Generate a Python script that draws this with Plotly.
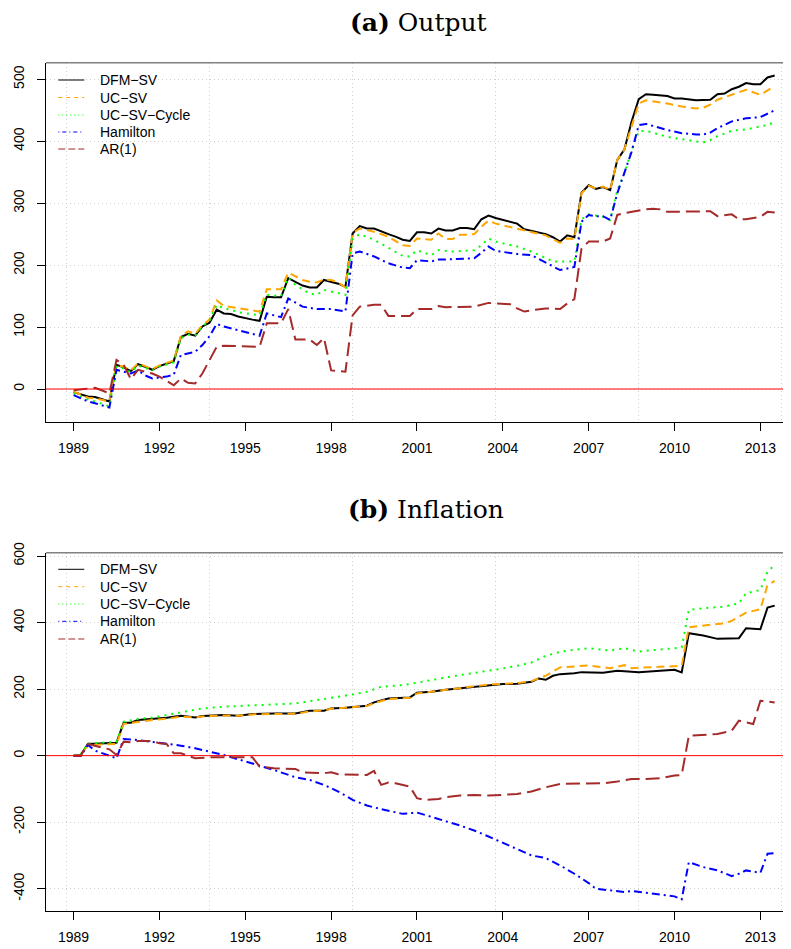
import plotly.graph_objects as go

# ---------------- Panel (a) Output ----------------
dfm_out_t = [1989.0,1989.5,1989.75,1990.25,1990.5,1990.75,1991.0,1991.25,1991.5,1991.75,1992.0,1992.25,1992.5,1992.75,1993.0,1993.25,1993.5,1993.75,1994.0,1994.25,1994.5,1994.75,1995.0,1995.25,1995.5,1995.75,1996.0,1996.25,1996.5,1996.75,1997.0,1997.25,1997.5,1997.75,1998.0,1998.25,1998.5,1998.75,1999.0,1999.25,1999.5,1999.75,2000.0,2000.25,2000.5,2000.75,2001.0,2001.25,2001.5,2001.75,2002.0,2002.25,2002.5,2002.75,2003.0,2003.25,2003.5,2003.75,2004.0,2004.5,2004.75,2005.0,2005.5,2005.75,2006.0,2006.25,2006.5,2006.75,2007.0,2007.25,2007.5,2007.75,2008.0,2008.25,2008.5,2008.75,2009.0,2009.25,2009.75,2010.0,2010.25,2010.75,2011.0,2011.25,2011.5,2011.75,2012.0,2012.25,2012.5,2012.75,2013.0,2013.25,2013.5]
dfm_out_v = [-5,-12,-13,-20,39,35,29,40,36,31,37,41,45,84,89,86,101,107,128,122,121,117,114,112,110,149,148,148,179,173,167,164,164,176,173,170,165,251,263,259,259,254,250,246,241,239,253,253,251,259,256,256,260,260,258,274,280,276,273,267,258,255,250,245,238,248,245,317,329,323,326,321,370,387,432,468,476,475,473,469,469,466,466,467,476,477,484,488,494,492,492,503,506]

uc_out_t = [1989.0,1989.5,1989.75,1990.25,1990.5,1990.75,1991.0,1991.25,1991.5,1991.75,1992.0,1992.25,1992.5,1992.75,1993.0,1993.25,1993.5,1993.75,1994.0,1994.25,1994.5,1994.75,1995.0,1995.25,1995.5,1995.75,1996.0,1996.25,1996.5,1996.75,1997.0,1997.25,1997.5,1997.75,1998.0,1998.25,1998.5,1998.75,1999.0,1999.5,2000.0,2000.5,2000.75,2001.0,2001.25,2001.5,2001.75,2002.0,2002.25,2002.5,2002.75,2003.0,2003.25,2003.5,2003.75,2004.5,2005.0,2005.5,2006.0,2006.25,2006.5,2006.75,2007.0,2007.25,2007.5,2007.75,2008.0,2008.25,2008.5,2008.75,2009.0,2009.75,2010.25,2010.75,2011.0,2011.25,2011.5,2012.0,2012.5,2013.0,2013.25,2013.5]
uc_out_v = [-4,-14,-15,-20,39,36,30,41,37,32,38,42,46,86,93,89,103,112,143,134,132,130,128,126,125,161,161,161,188,182,176,173,172,177,176,172,164,252,259,254,246,232,231,243,242,241,251,242,242,249,249,250,262,272,267,259,254,248,236,243,242,316,328,324,327,321,370,387,424,461,466,461,456,453,454,459,467,475,483,475,482,489]

cyc_out_t = [1989.0,1989.5,1989.75,1990.25,1990.5,1990.75,1991.0,1991.25,1991.5,1991.75,1992.0,1992.25,1992.5,1992.75,1993.0,1993.25,1993.5,1993.75,1994.0,1994.25,1994.5,1994.75,1995.0,1995.5,1995.75,1996.25,1996.5,1996.75,1997.25,1997.5,1997.75,1998.0,1998.5,1998.75,1999.0,1999.5,2000.0,2000.5,2000.75,2001.0,2001.5,2001.75,2002.25,2003.0,2003.25,2003.5,2003.75,2004.5,2005.0,2005.75,2006.5,2006.75,2007.0,2007.25,2007.5,2007.75,2008.0,2008.25,2008.5,2008.75,2009.0,2009.75,2010.25,2010.75,2011.0,2011.25,2011.5,2012.0,2012.5,2013.0,2013.25,2013.5]
cyc_out_v = [-7,-17,-20,-28,36,33,27,38,34,30,36,40,43,82,88,87,101,110,136,130,128,124,122,119,152,150,180,168,154,152,160,157,152,243,250,241,228,215,214,224,216,224,222,224,232,243,238,230,222,206,206,274,282,280,278,273,321,348,386,416,417,407,403,399,398,402,408,417,419,424,426,431]

ham_out_t = [1989.0,1989.5,1989.75,1990.25,1990.5,1990.75,1991.0,1991.25,1991.5,1991.75,1992.25,1992.5,1992.75,1993.25,1993.5,1993.75,1994.0,1994.25,1994.75,1995.5,1995.75,1996.25,1996.5,1997.0,1997.5,1998.0,1998.5,1998.75,1999.0,1999.5,2000.0,2000.5,2000.75,2001.0,2001.5,2001.75,2002.0,2003.0,2003.25,2003.5,2003.75,2004.5,2005.0,2006.0,2006.5,2006.75,2007.0,2007.25,2007.5,2007.75,2008.0,2008.25,2008.5,2008.75,2009.0,2009.75,2010.25,2010.75,2011.0,2011.25,2011.5,2012.0,2012.5,2013.0,2013.25,2013.5]
ham_out_v = [-10,-20,-23,-30,31,28,25,30,22,17,20,23,55,60,71,85,105,101,95,86,122,116,146,133,129,129,125,219,222,214,203,196,195,208,206,209,209,211,220,230,223,218,216,192,197,270,281,279,279,273,316,349,383,426,428,418,413,411,411,414,421,432,437,439,445,450]

ar_out_t = [1989.0,1989.5,1989.75,1990.25,1990.5,1990.75,1991.0,1991.25,1991.75,1992.0,1992.5,1992.75,1993.0,1993.25,1993.5,1994.0,1994.25,1995.5,1995.75,1996.25,1996.5,1996.75,1997.25,1997.5,1997.75,1998.0,1998.5,1998.75,1999.0,1999.5,1999.75,2000.0,2000.75,2001.0,2001.5,2001.75,2002.0,2003.0,2003.5,2003.75,2004.25,2004.5,2004.75,2005.0,2005.5,2006.0,2006.25,2006.5,2006.75,2007.0,2007.5,2007.75,2008.0,2008.25,2008.5,2008.75,2009.0,2009.25,2009.5,2009.75,2010.75,2011.25,2011.5,2012.0,2012.25,2012.5,2013.0,2013.25,2013.5]
ar_out_v = [-2,1,2,-7,47,39,16,31,25,20,6,17,10,9,25,68,70,68,106,106,129,80,80,71,82,30,28,119,133,136,136,118,118,129,129,134,132,133,139,138,137,130,125,127,130,129,138,145,227,238,238,243,281,284,286,289,290,291,290,286,286,287,279,282,274,274,278,286,285]

# ---------------- Panel (b) Inflation ----------------
dfm_inf_t = [1989.0,1989.25,1989.5,1990.5,1990.75,1991.0,1991.25,1991.75,1992.25,1992.75,1993.25,1993.5,1994.25,1994.75,1995.25,1996.0,1996.75,1997.25,1997.75,1998.0,1998.5,1999.25,1999.5,2000.0,2000.75,2001.0,2001.5,2002.0,2002.5,2003.0,2003.5,2004.0,2004.5,2005.0,2005.25,2005.5,2005.75,2006.0,2006.5,2006.75,2007.5,2008.0,2008.75,2009.5,2010.0,2010.25,2010.5,2011.0,2011.5,2012.25,2012.5,2013.0,2013.25,2013.5]
dfm_inf_v = [0,2,35,39,99,99,107,110,114,120,115,119,122,120,125,127,127,135,135,142,144,150,160,172,175,189,192,198,202,207,212,215,216,222,232,228,240,245,248,251,249,255,251,256,258,250,368,361,351,353,383,380,445,451]

uc_inf_t = [1989.0,1989.25,1989.5,1990.5,1990.75,1991.25,1991.75,1992.25,1992.75,1993.25,1993.5,1994.25,1994.75,1995.25,1996.0,1996.75,1997.25,1997.75,1998.0,1998.5,1999.25,1999.5,2000.0,2000.75,2001.0,2001.5,2002.0,2002.5,2003.0,2003.5,2004.0,2004.5,2005.0,2005.5,2006.0,2006.5,2007.0,2007.75,2008.25,2008.5,2009.5,2010.25,2010.5,2011.0,2011.75,2012.0,2012.5,2013.0,2013.25,2013.5]
uc_inf_v = [0,1,32,35,95,102,107,111,117,115,118,121,120,124,126,126,133,136,141,144,149,158,170,174,187,192,197,203,208,214,216,218,224,240,265,269,271,263,272,263,268,270,386,390,398,405,430,440,513,525]

cyc_inf_t = [1989.0,1989.25,1989.5,1990.5,1990.75,1991.25,1991.75,1992.25,1992.75,1993.5,1994.25,1995.25,1996.0,1996.75,1997.25,1997.75,1998.25,1998.75,1999.25,1999.75,2000.5,2001.0,2001.5,2002.0,2002.5,2003.0,2003.5,2004.0,2004.5,2005.0,2005.5,2006.0,2006.5,2007.0,2007.75,2008.25,2008.75,2009.5,2010.0,2010.25,2010.5,2011.0,2011.75,2012.25,2012.5,2013.0,2013.25,2013.5]
cyc_inf_v = [0,3,37,41,102,110,114,122,129,142,147,152,154,157,163,169,177,184,192,207,212,219,228,235,242,248,255,262,270,280,300,312,318,323,316,323,313,318,323,325,438,443,448,458,488,498,553,573]

ham_inf_t = [1989.0,1989.25,1989.5,1989.75,1990.5,1990.75,1991.25,1991.75,1992.25,1992.75,1993.25,1993.75,1994.25,1994.75,1995.25,1996.0,1996.75,1997.25,1997.75,1998.25,1998.75,1999.25,1999.75,2000.5,2001.0,2001.25,2001.75,2002.0,2002.5,2003.0,2003.5,2004.0,2004.5,2005.0,2005.5,2006.0,2006.5,2007.0,2007.25,2007.75,2008.25,2008.5,2009.0,2009.5,2010.0,2010.25,2010.5,2011.0,2011.5,2012.0,2012.25,2012.5,2013.0,2013.25,2013.5]
ham_inf_v = [0,-1,32,15,-8,50,47,42,37,30,22,12,2,-11,-23,-43,-65,-73,-88,-108,-133,-150,-161,-175,-171,-178,-190,-197,-210,-225,-243,-262,-280,-300,-308,-330,-355,-383,-400,-405,-410,-407,-413,-418,-423,-432,-320,-335,-345,-362,-355,-345,-352,-295,-293]

ar_inf_t = [1989.0,1989.25,1989.5,1990.0,1990.25,1990.5,1990.75,1991.0,1991.25,1991.75,1992.0,1992.25,1992.5,1992.75,1993.25,1993.75,1994.25,1994.75,1995.25,1995.5,1996.0,1996.75,1997.0,1997.75,1998.0,1998.25,1998.75,1999.25,1999.5,1999.75,2000.0,2000.25,2000.75,2001.0,2001.25,2001.75,2002.0,2002.5,2003.0,2003.5,2004.0,2004.5,2005.0,2005.5,2006.0,2007.0,2007.5,2008.0,2008.5,2009.0,2009.5,2010.0,2010.25,2010.5,2011.0,2011.5,2012.0,2012.25,2012.5,2012.75,2013.0,2013.5]
ar_inf_v = [0,0,35,25,19,2,42,40,44,44,37,35,7,7,-8,-5,-5,-6,-5,-33,-38,-40,-50,-53,-50,-56,-57,-58,-46,-88,-81,-83,-93,-128,-133,-130,-125,-120,-118,-120,-118,-115,-108,-95,-85,-85,-83,-78,-70,-70,-68,-60,-58,60,62,65,75,105,100,95,165,160]

series_names = ["DFM\u2212SV", "UC\u2212SV", "UC\u2212SV\u2212Cycle", "Hamilton", "AR(1)"]
colors = ["#000000", "#FFA500", "#00FF00", "#0000FF", "#A52A2A"]
dashes = ["solid", "8px,5px", "2px,5px", "8px,4px,2px,4px", "14px,6px"]
legend_dashes = ["solid", "4px,4px", "1px,3px", "1px,3px,4px,3px", "7px,3px"]

year_ticks = [1989, 1992, 1995, 1998, 2001, 2004, 2007, 2010, 2013]
grid_years = [1988.75, 1993.75, 1998.75, 2003.75, 2008.75, 2013.75]
out_ticks = [0, 100, 200, 300, 400, 500]
inf_ticks = [-400, -200, 0, 200, 400, 600]

# page has an 8px body margin: figure coordinates = screen coordinates - 8
OFF = 8
W, H = 791 - OFF, 949 - OFF
L = 45.7 - OFF
xr = [1988.036, 2014.07]

panels = [
    ("x", "y", [(dfm_out_t, dfm_out_v), (uc_out_t, uc_out_v), (cyc_out_t, cyc_out_v), (ham_out_t, ham_out_v), (ar_out_t, ar_out_v)]),
    ("x2", "y2", [(dfm_inf_t, dfm_inf_v), (uc_inf_t, uc_inf_v), (cyc_inf_t, cyc_inf_v), (ham_inf_t, ham_inf_v), (ar_inf_t, ar_inf_v)]),
]

fig = go.Figure()
for xa, ya, data in panels:
    for i, (t, v) in enumerate(data):
        fig.add_trace(go.Scatter(x=t, y=v, mode="lines", xaxis=xa, yaxis=ya, showlegend=False,
                                 name=series_names[i],
                                 line=dict(color=colors[i], width=2, dash=dashes[i])))

FONT = "Liberation Sans, Arial, sans-serif"
GRID = "#cfcfcf"

def xaxis_cfg(anchor):
    return dict(range=xr, anchor=anchor, tickmode="array", tickvals=year_ticks, automargin=False,
                ticktext=[str(y) for y in year_ticks], showgrid=False, zeroline=False,
                showline=True, linecolor="black", linewidth=1, ticks="outside", ticklen=8,
                tickcolor="black", tickwidth=1, ticklabelstandoff=5,
                tickfont=dict(family=FONT, size=14, color="black"),
                minor=dict(tickmode="array", tickvals=grid_years, showgrid=True, gridcolor=GRID,
                           griddash="1px,3px", gridwidth=1, ticks=""))

def yaxis_cfg(dom, rng, tv):
    return dict(domain=dom, range=rng, tickmode="array", tickvals=tv, ticktext=[str(t) for t in tv],
                automargin=False, showgrid=True, gridcolor=GRID, griddash="1px,3px", gridwidth=1,
                zeroline=False,
                showline=True, linecolor="black", linewidth=1, ticks="outside", ticklen=8,
                tickcolor="black", tickwidth=1, tickangle=-90, ticklabelstandoff=7,
                tickfont=dict(family=FONT, size=14, color="black"))

def fy(screen_y):
    return 1 - (screen_y - OFF) / H

def fx(screen_x):
    return (screen_x - OFF - L) / (W - L)

top_dom = [fy(421.7), fy(62.7)]
bot_dom = [fy(911.0), fy(552.7)]

shapes = []
annotations = []
for xa, ya in (("x", "y"), ("x2", "y2")):
    # grey box top
    shapes.append(dict(type="line", xref=xa + " domain", yref=ya + " domain", x0=0, x1=1, y0=1, y1=1,
                       line=dict(color="#808080", width=1.5)))
    # red reference line at zero
    shapes.append(dict(type="line", xref=xa + " domain", yref=ya, x0=0, x1=1, y0=0, y1=0,
                       line=dict(color="#FF0000", width=1)))

# manual legends (screen positions)
legend_rows = [
    [80.0, 97.5, 115.0, 132.0, 149.0],
    [569.3, 586.7, 604.0, 621.3, 639.0],
]
for rows in legend_rows:
    for i, ys in enumerate(rows):
        shapes.append(dict(type="line", xref="paper", yref="paper", x0=fx(58), x1=fx(84), y0=fy(ys), y1=fy(ys),
                           line=dict(color=colors[i], width=1, dash=legend_dashes[i])))
        annotations.append(dict(text=series_names[i], x=fx(98), y=fy(ys), xref="paper", yref="paper",
                                xanchor="left", yanchor="middle", showarrow=False,
                                font=dict(family=FONT, size=14, color="black")))

annotations.append(dict(text="<b>(a)</b> Output", x=fx(418.5), y=fy(23), xref="paper", yref="paper",
                        xanchor="center", yanchor="middle", showarrow=False,
                        font=dict(family="DejaVu Serif, serif", size=25, color="black")))
annotations.append(dict(text="<b>(b)</b> Inflation", x=fx(426), y=fy(510), xref="paper", yref="paper",
                        xanchor="center", yanchor="middle", showarrow=False,
                        font=dict(family="DejaVu Serif, serif", size=25, color="black")))

fig.update_layout(
    template="none",
    width=W, height=H, autosize=False,
    margin=dict(l=L, r=0, t=0, b=0, pad=0),
    paper_bgcolor="white", plot_bgcolor="white",
    showlegend=False,
    xaxis=xaxis_cfg("y"),
    xaxis2=xaxis_cfg("y2"),
    yaxis=yaxis_cfg(top_dom, [-52.8, 526.8], out_ticks),
    yaxis2=yaxis_cfg(bot_dom, [-467, 610], inf_ticks),
    annotations=annotations,
    shapes=shapes,
)

fig.write_html("out.html")
